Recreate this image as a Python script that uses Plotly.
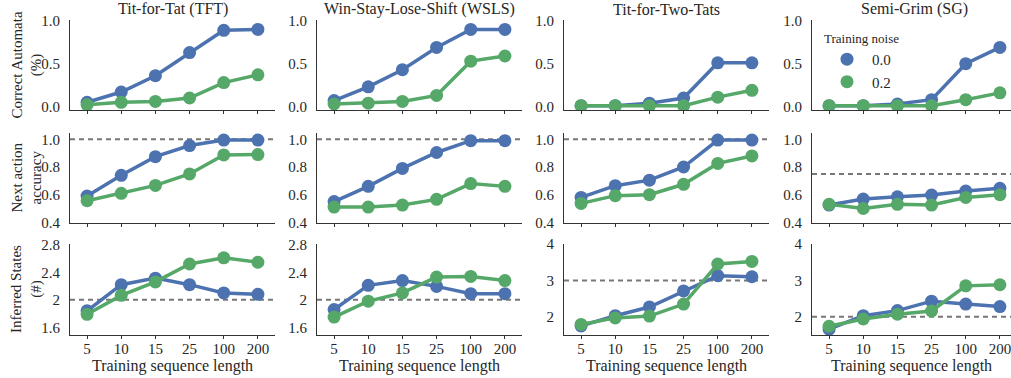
import plotly.graph_objects as go

W, H = 1011, 378

categories = ["5", "10", "15", "25", "100", "200"]
strategies = ["Tit-for-Tat (TFT)", "Win-Stay-Lose-Shift (WSLS)", "Tit-for-Two-Tats", "Semi-Grim (SG)"]
row_titles = ["Correct Automata<br>(%)", "Next action<br>accuracy", "Inferred States<br>(#)"]
noise_labels = ["0.0", "0.2"]
x_title = "Training sequence length"
legend_title = "Training noise"

# Row 1: fraction of correctly inferred automata
correct_n00 = [
    [0.05, 0.17, 0.36, 0.63, 0.89, 0.90],
    [0.07, 0.23, 0.43, 0.69, 0.90, 0.90],
    [0.01, 0.01, 0.04, 0.10, 0.51, 0.51],
    [0.01, 0.01, 0.03, 0.08, 0.50, 0.69],
]
correct_n02 = [
    [0.02, 0.05, 0.06, 0.10, 0.28, 0.37],
    [0.03, 0.04, 0.06, 0.13, 0.53, 0.59],
    [0.01, 0.01, 0.01, 0.01, 0.11, 0.19],
    [0.01, 0.01, 0.01, 0.01, 0.08, 0.16],
]
correct_err_n00 = [
    [0.0, 0.0, 0.0, 0.0, 0.0, 0.0],
    [0.0, 0.0, 0.0, 0.0, 0.0, 0.0],
    [0.0, 0.0, 0.01, 0.02, 0.06, 0.06],
    [0.0, 0.0, 0.0, 0.01, 0.01, 0.01],
]
correct_err_n02 = [
    [0.0, 0.0, 0.0, 0.0, 0.01, 0.01],
    [0.0, 0.0, 0.0, 0.01, 0.01, 0.01],
    [0.0, 0.0, 0.0, 0.0, 0.01, 0.01],
    [0.0, 0.0, 0.0, 0.0, 0.01, 0.01],
]

# Row 2: next action accuracy
accuracy_n00 = [
    [0.59, 0.74, 0.875, 0.955, 0.995, 0.995],
    [0.55, 0.66, 0.79, 0.905, 0.99, 0.99],
    [0.58, 0.665, 0.705, 0.80, 0.995, 0.995],
    [0.525, 0.568, 0.585, 0.597, 0.626, 0.646],
]
accuracy_n02 = [
    [0.556, 0.61, 0.667, 0.75, 0.887, 0.89],
    [0.51, 0.51, 0.525, 0.566, 0.68, 0.66],
    [0.537, 0.593, 0.60, 0.675, 0.826, 0.88],
    [0.53, 0.50, 0.53, 0.525, 0.58, 0.60],
]
accuracy_err_n00 = [
    [0.01, 0.0, 0.0, 0.0, 0.0, 0.0],
    [0.01, 0.0, 0.0, 0.0, 0.0, 0.0],
    [0.035, 0.02, 0.01, 0.01, 0.0, 0.0],
    [0.02, 0.01, 0.0, 0.0, 0.0, 0.0],
]
accuracy_err_n02 = [
    [0.01, 0.0, 0.0, 0.0, 0.0, 0.0],
    [0.0, 0.0, 0.0, 0.0, 0.01, 0.01],
    [0.03, 0.02, 0.02, 0.01, 0.01, 0.0],
    [0.02, 0.01, 0.01, 0.01, 0.01, 0.01],
]

# Row 3: number of inferred states
states_n00 = [
    [1.84, 2.22, 2.315, 2.22, 2.10, 2.08],
    [1.86, 2.21, 2.28, 2.195, 2.09, 2.09],
    [1.75, 2.03, 2.27, 2.71, 3.13, 3.10],
    [1.66, 2.03, 2.17, 2.43, 2.35, 2.28],
]
states_n02 = [
    [1.79, 2.065, 2.26, 2.52, 2.61, 2.545],
    [1.75, 1.98, 2.10, 2.33, 2.34, 2.28],
    [1.79, 1.97, 2.02, 2.35, 3.45, 3.52],
    [1.74, 1.94, 2.07, 2.16, 2.85, 2.88],
]
states_err_n00 = [[0.0] * 6 for _ in range(4)]
states_err_n02 = [[0.0] * 6 for _ in range(4)]

# Reference (dashed) levels per strategy
ref_accuracy = [1.0, 1.0, 1.0, 0.75]
ref_states = [2.0, 2.0, 3.0, 2.0]

rows_data = [
    (correct_n00, correct_n02, correct_err_n00, correct_err_n02, None),
    (accuracy_n00, accuracy_n02, accuracy_err_n00, accuracy_err_n02, ref_accuracy),
    (states_n00, states_n02, states_err_n00, states_err_n02, ref_states),
]

colors = ["#4C72B0", "#55A868"]
FONT = "Liberation Serif"
TXT = "#262626"

# geometry (pixels)
col_px = [(70, 275), (317, 522), (564, 769), (812, 1011)]
row_px = [(20, 110), (132.7, 223.3), (244, 335)]
row_ranges = [
    [[-0.04, 1.01]] * 4,
    [[0.393, 1.048]] * 4,
    [[1.49, 2.81], [1.49, 2.81], [1.5, 4.0], [1.5, 4.0]],
]
row_ticks = [
    [[0.0, 0.5, 1.0]] * 4,
    [[0.4, 0.6, 0.8, 1.0]] * 4,
    [[1.6, 2.0, 2.4, 2.8], [1.6, 2.0, 2.4, 2.8], [2, 3, 4], [2, 3, 4]],
]
row_tickfmt = [".1f", ".1f", None]

fig = go.Figure()
layout = {}
shapes = []
annotations = []

for r in range(3):
    n00, n02, e00, e02, refs = rows_data[r]
    y0, y1 = row_px[r]
    annotations.append(dict(
        text=row_titles[r], xref="paper", yref="paper",
        x=26.5 / W, y=1 - (y0 + y1) / 2 / H, xanchor="center", yanchor="middle",
        textangle=-90, showarrow=False, font=dict(family=FONT, size=15, color=TXT),
    ))
    for c in range(4):
        k = r * 4 + c + 1
        xa = "x" if k == 1 else f"x{k}"
        ya = "y" if k == 1 else f"y{k}"
        xkey = "xaxis" if k == 1 else f"xaxis{k}"
        ykey = "yaxis" if k == 1 else f"yaxis{k}"
        x0, x1 = col_px[c]
        width_px = x1 - x0
        xr_hi = -0.5 + 6 * width_px / 205.0
        layout[xkey] = dict(
            domain=[x0 / W, x1 / W], anchor=ya, type="category",
            categoryorder="array", categoryarray=categories,
            range=[-0.5, xr_hi], showline=True, linecolor="#333333", linewidth=1,
            ticks="outside", ticklen=3, tickcolor="#333333",
            showticklabels=(r == 2), showgrid=False, zeroline=False,
            automargin=False, ticklabelstandoff=-3,
            tickfont=dict(family=FONT, size=15, color=TXT),
            title=dict(text=x_title if r == 2 else "", standoff=2,
                       font=dict(family=FONT, size=16, color=TXT)),
        )
        ydict = dict(
            domain=[1 - y1 / H, 1 - y0 / H], anchor=xa,
            range=row_ranges[r][c], tickvals=row_ticks[r][c],
            showline=True, linecolor="#333333", linewidth=1,
            ticks="", showgrid=False, zeroline=False, ticklabelstandoff=6,
            automargin=False,
            tickfont=dict(family=FONT, size=15, color=TXT),
        )
        if row_tickfmt[r]:
            ydict["tickformat"] = row_tickfmt[r]
        layout[ykey] = ydict

        if refs is not None:
            shapes.append(dict(
                type="line", xref=f"{xa} domain", yref=ya, x0=0, x1=1,
                y0=refs[c], y1=refs[c], line=dict(color="#777777", width=2, dash="5px,4px"),
                layer="below",
            ))

        for vals, errs, col in ((n00[c], e00[c], colors[0]), (n02[c], e02[c], colors[1])):
            fig.add_trace(go.Scatter(
                x=categories, y=vals, xaxis=xa, yaxis=ya, mode="lines+markers",
                line=dict(color=col, width=3.5),
                marker=dict(color=col, size=13),
                error_y=dict(type="data", array=errs, color=col, thickness=3, width=0),
                showlegend=False, hoverinfo="skip",
            ))

        if r == 0:
            annotations.append(dict(
                text=strategies[c], xref="paper", yref="paper",
                x=(x0 + 205 / 2) / W, y=1 - 9 / H, xanchor="center", yanchor="middle",
                showarrow=False, font=dict(family=FONT, size=16, color=TXT),
            ))

# legend entries
for lab, col in zip(noise_labels, colors):
    fig.add_trace(go.Scatter(
        x=[None], y=[None], xaxis="x4", yaxis="y4", mode="markers",
        marker=dict(color=col, size=13), name=lab, showlegend=True,
    ))

fig.update_layout(
    width=W, height=H, margin=dict(l=0, r=0, t=0, b=0, pad=0, autoexpand=False),
    paper_bgcolor="white", plot_bgcolor="white",
    font=dict(family=FONT, color=TXT),
    shapes=shapes, annotations=annotations,
    legend=dict(
        x=822 / W, y=1 - 26 / H, xanchor="left", yanchor="top",
        bgcolor="rgba(0,0,0,0)",
        title=dict(text=legend_title, font=dict(family=FONT, size=13, color=TXT)),
        font=dict(family=FONT, size=15, color=TXT),
        itemsizing="trace", itemwidth=40, tracegroupgap=0,
    ),
    **layout,
)

fig.write_html(
    "out.html",
    config={"displayModeBar": False},
    post_script="document.body.style.margin='0';document.body.style.overflow='hidden';",
)
